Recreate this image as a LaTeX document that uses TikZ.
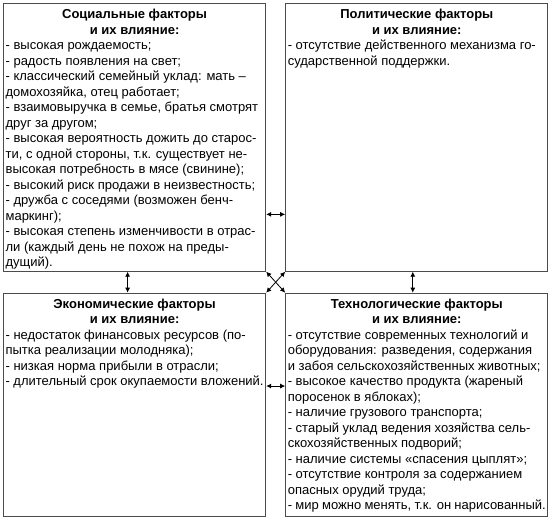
\documentclass[tikz,border=0pt]{standalone}
\usepackage{fontspec}
\setmainfont{Liberation Sans}
\usetikzlibrary{arrows.meta,positioning}
\tikzset{
    factor/.style={rectangle, draw=black!70, line width=1.2pt, inner xsep=2pt, inner ysep=5.5pt, font=\fontsize{13}{15.5}\selectfont},
    line/.style={draw, {Latex[length=5pt,width=5pt]}-{Latex[length=5pt,width=5pt]}, line width=0.8pt}
}
\newcommand{\factorbox}[3]{\parbox[t][#1][t]{258pt}{{\centering\bfseries #2\par}\raggedright\hbadness=10000 #3}}

\begin{document}
\begin{tikzpicture}
    \useasboundingbox (0,0) rectangle (550pt,-522pt);
    \node [factor, anchor=north west] (soc) at (3pt,-3pt) {\factorbox{256.5pt}{Социальные факторы\\и их влияние:}{%
        - высокая рождаемость;\\
        - радость появления на свет;\\
        - классический семейный уклад: мать –\\домохозяйка, отец работает;\\
        - взаимовыручка в семье, братья смотрят\\друг за другом;\\
        - высокая вероятность дожить до старос-\\ти, с одной стороны, т.к. существует не-\\высокая потребность в мясе (свинине);\\
        - высокий риск продажи в неизвестность;\\
        - дружба с соседями (возможен бенч-\\маркинг);\\
        - высокая степень изменчивости в отрас-\\ли (каждый день не похож на преды-\\дущий).}};
    \node [factor, right=19pt of soc] (pol) {\factorbox{256.5pt}{Политические факторы\\и их влияние:}{%
        - отсутствие действенного механизма го-\\сударственной поддержки.}};
    \node [factor, below=21pt of soc] (eco) {\factorbox{212.5pt}{Экономические факторы\\и их влияние:}{%
        - недостаток финансовых ресурсов (по-\\пытка реализации молодняка);\\
        - низкая норма прибыли в отрасли;\\
        - длительный срок окупаемости вложений.}};
    \node [factor, below=21pt of pol] (tech) {\factorbox{212.5pt}{Технологические факторы\\и их влияние:}{%
        - отсутствие современных технологий и\\оборудования: разведения, содержания\\и забоя сельскохозяйственных животных;\\
        - высокое качество продукта (жареный\\поросенок в яблоках);\\
        - наличие грузового транспорта;\\
        - старый уклад ведения хозяйства сель-\\скохозяйственных подворий;\\
        - наличие системы «спасения цыплят»;\\
        - отсутствие контроля за содержанием\\опасных орудий труда;\\
        - мир можно менять, т.к. он нарисованный.}};

    \path [line] ([yshift=-77pt]soc.east) -- ([yshift=-77pt]pol.west);
    \path [line] ([yshift=19pt]eco.east) -- ([yshift=19pt]tech.west);
    \path [line] ([xshift=-7pt]soc.south) -- ([xshift=-7pt]eco.north);
    \path [line] ([xshift=-4pt]pol.south) -- ([xshift=-4pt]tech.north);
    \path [line] (soc.south east) -- (tech.north west);
    \path [line] (pol.south west) -- (eco.north east);
\end{tikzpicture}
\end{document}
